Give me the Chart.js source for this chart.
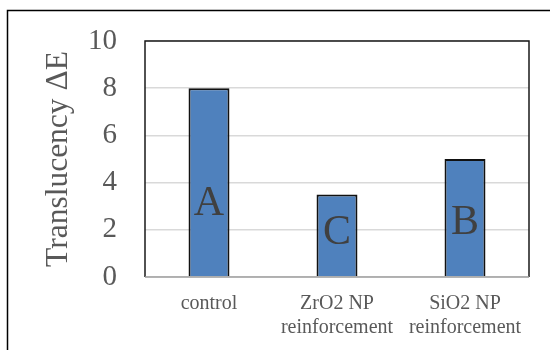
<!DOCTYPE html>
<html>
<head>
<meta charset="utf-8">
<script src="https://cdn.jsdelivr.net/npm/chart.js@4/dist/chart.umd.min.js"></script>
<style>
  body { margin: 0; background: #fff; }
  #wrap { width: 550px; height: 350px; position: relative; }
</style>
</head>
<body>
<div id="wrap"><canvas id="c" width="550" height="350"></canvas></div>
<script>
// 데이터
var categories = [["control"], ["ZrO2 NP", "reinforcement"], ["SiO2 NP", "reinforcement"]];
var translucency = [8.0, 3.5, 5.0];
var groupLetters = ["A", "C", "B"];
var yTicks = [0, 2, 4, 6, 8, 10];

var serif = "'Liberation Serif', 'Times New Roman', serif";
var textGray = "#595959";

// 바깥 테두리, 플롯 테두리, 막대 안 글자
var framePlugin = {
  id: "frame",
  beforeDraw: function (chart) {
    var ctx = chart.ctx;
    ctx.save();
    ctx.strokeStyle = "#000";
    ctx.lineWidth = 1.5;
    ctx.beginPath();
    ctx.moveTo(7.5, 400);
    ctx.lineTo(7.5, 10.5);
    ctx.lineTo(600, 10.5);
    ctx.stroke();
    ctx.restore();
  },
  afterDatasetsDraw: function (chart, args, opts) {
    var ctx = chart.ctx;
    var a = chart.chartArea;
    ctx.save();
    // 플롯 영역 테두리
    ctx.lineWidth = 1.5;
    ctx.strokeStyle = "#1a1a1a";
    ctx.beginPath();
    ctx.moveTo(a.left, a.bottom);
    ctx.lineTo(a.left, a.top);
    ctx.lineTo(a.right, a.top);
    ctx.lineTo(a.right, a.bottom);
    ctx.stroke();
    ctx.strokeStyle = "#a0a0a0";
    ctx.beginPath();
    ctx.moveTo(a.left, a.bottom);
    ctx.lineTo(a.right, a.bottom);
    ctx.stroke();

    // 그룹 글자 (A, C, B)
    var meta = chart.getDatasetMeta(0);
    var yScale = chart.scales.y;
    ctx.fillStyle = "#404040";
    ctx.font = "42px " + serif;
    ctx.textAlign = "center";
    ctx.textBaseline = "middle";
    meta.data.forEach(function (bar, i) {
      ctx.fillText(groupLetters[i], bar.x, yScale.getPixelForValue(opts.letterAt[i]));
    });
    ctx.restore();
  }
};

new Chart(document.getElementById("c"), {
  type: "bar",
  data: {
    labels: categories,
    datasets: [{
      data: translucency,
      backgroundColor: "#4f81bd",
      borderColor: "#111",
      borderWidth: 2,
      barPercentage: 0.32,
      categoryPercentage: 1.0
    }]
  },
  options: {
    responsive: false,
    animation: false,
    layout: { padding: { top: 41, right: 21, left: 0, bottom: 0 } },
    plugins: {
      legend: { display: false },
      tooltip: { enabled: false },
      frame: { letterAt: [3.1, 1.85, 2.3] }
    },
    scales: {
      x: {
        grid: { display: false, drawTicks: false },
        border: { display: false },
        ticks: {
          color: textGray,
          padding: 15,
          maxRotation: 0,
          font: { family: serif, size: 20, lineHeight: 1.2 }
        },
        afterFit: function (s) { s.height = 350 - 277; }
      },
      y: {
        min: 0,
        max: 10,
        afterBuildTicks: function (s) {
          s.ticks = yTicks.map(function (v) { return { value: v }; });
        },
        grid: { color: "#d9d9d9", lineWidth: 1.5, drawTicks: false },
        border: { display: false },
        ticks: {
          color: textGray,
          padding: 28,
          font: { family: serif, size: 29 }
        },
        title: {
          display: true,
          text: "Translucency ΔE",
          color: textGray,
          padding: { top: 40, bottom: 0 },
          font: { family: serif, size: 31.5, lineHeight: 1.2 }
        },
        afterFit: function (s) {
          s.width = 145;
          // 눈금 여백이 위쪽 여백에 더해지지 않게
          s.paddingTop = 0;
          s.paddingBottom = 0;
        }
      }
    }
  },
  plugins: [framePlugin]
});
</script>
</body>
</html>
